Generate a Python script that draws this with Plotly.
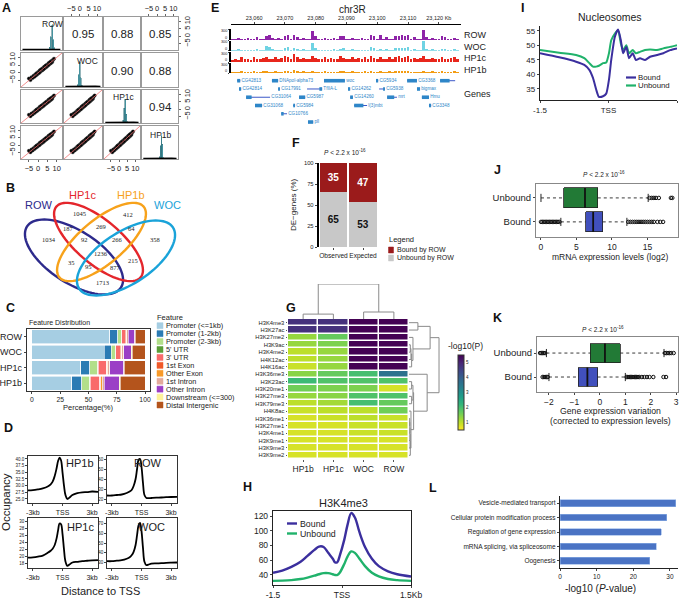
import numpy as np
import plotly.graph_objects as go

W, H = 686, 599
FONT = "Liberation Sans, Arial, Helvetica, sans-serif"
SERIF = "Liberation Serif, Times New Roman, serif"

# ======================= DATA =======================
# ---- A: pairwise correlations ----
a_names = ["ROW", "WOC", "HP1c", "HP1b"]
a_corr_row = [0, 0, 0, 1, 1, 2]
a_corr_col = [1, 2, 3, 2, 3, 3]
a_corr_val = [0.95, 0.88, 0.85, 0.90, 0.88, 0.94]
a_hist_x = [[6.3, 6.9, 7.5, 8.1, 8.7],
            [-1.4, -0.8, -0.2, 0.4, 1.0],
            [2.6, 3.2, 3.8, 4.4, 5.0],
            [1.5, 2.1, 2.7, 3.3, 3.9]]
a_hist_n = [[0.10, 0.45, 0.85, 0.35, 0.08],
            [0.08, 0.40, 0.82, 0.30, 0.06],
            [0.10, 0.50, 0.80, 0.30, 0.05],
            [0.08, 0.45, 0.78, 0.50, 0.05]]
a_dens_x = [-8.5, -4, 0, 3, 6, 9, 12]
a_dens_y = [0.02, 0.025, 0.03, 0.035, 0.03, 0.025, 0.02]
a_cloud_x = [-5.0, -4.2, -3.6, -3.0, -2.5, -2.0, -1.6, -1.2, -0.8, -0.4, 0.0, 0.4, 0.8, 1.2, 1.6,
             2.0, 2.4, 2.8, 3.2, 3.6, 4.0, 4.4, 4.8, 5.2, 5.6, 6.0, 6.4, 6.8, 7.2, 7.6, 8.0, 8.6,
             1.0, 2.2, 3.4, 4.6, 5.8, 7.0, -1.0, 0.6, 1.8, 3.0, 4.2, 5.4, 6.6]
a_cloud_y = [-3.8, -4.8, -2.9, -3.5, -2.0, -2.6, -1.1, -1.8, -0.3, -1.0, 0.5, -0.2, 1.3, 0.6, 2.1,
             1.4, 2.9, 2.2, 3.7, 3.0, 4.5, 3.8, 5.3, 4.6, 6.1, 5.4, 6.9, 6.2, 7.7, 7.0, 8.4, 9.2,
             1.6, 1.8, 3.9, 4.1, 6.3, 6.6, -0.6, 0.2, 2.3, 2.6, 4.7, 5.0, 7.1]

# ---- B: Venn ----
venn_sets = ["ROW", "HP1c", "HP1b", "WOC"]
venn_counts = [1045, 412, 187, 269, 64, 1034, 92, 266, 358, 1236, 35, 95, 877, 215, 1713]

# ---- C: feature distribution (%) ----
c_features = ["Promoter (&lt;=1kb)", "Promoter (1-2kb)", "Promoter (2-3kb)", "5' UTR", "3' UTR",
              "1st Exon", "Other Exon", "1st Intron", "Other Intron", "Downstream (&lt;=300)",
              "Distal Intergenic"]
c_samples = ["ROW", "WOC", "HP1c", "HP1b"]
c_ROW = [69, 7, 3, 0.5, 3, 1, 0.5, 1, 6, 0.5, 8.5]
c_WOC = [64, 6, 3.5, 0.5, 4, 1, 0.5, 1.5, 7, 0.5, 11.5]
c_HP1c = [43, 8, 7, 0.5, 7, 0.5, 1, 2, 12, 0.8, 18.2]
c_HP1b = [35, 9, 7, 0.5, 8.5, 1, 1, 2, 13, 1, 22]

# ---- D: TSS occupancy profiles ----
d_x = [-3.5, -3, -2.5, -2, -1.5, -1.2, -1, -0.8, -0.6, -0.45, -0.3, -0.15, 0, 0.15, 0.3, 0.5, 0.7,
       1, 1.5, 2, 2.5, 3, 3.6]
d_HP1b = [28.2, 28.3, 28.6, 29.0, 29.7, 30.5, 31.5, 33.5, 36.5, 39.2, 40.5, 39.5, 35.0, 30.0, 26.5,
          25.0, 25.5, 26.5, 27.2, 27.5, 27.6, 27.8, 27.7]
d_ROW = [23.5, 23.5, 24.0, 24.5, 26.0, 27.5, 29.0, 33.0, 40.0, 50.0, 59.0, 60.0, 52.0, 36.0, 24.0,
         21.0, 20.8, 21.0, 21.3, 21.5, 21.8, 22.0, 22.2]
d_HP1c = [19.6, 19.7, 19.9, 20.2, 21.0, 21.6, 22.2, 23.2, 25.2, 27.5, 29.5, 29.3, 26.5, 22.0, 18.5,
          17.2, 17.6, 18.2, 18.4, 18.6, 18.7, 18.8, 18.9]
d_WOC = [31.5, 31.5, 32.0, 32.5, 34.0, 35.5, 37.5, 41.0, 48.0, 58.0, 68.0, 70.5, 62.0, 45.0, 31.0,
         27.5, 28.0, 29.0, 29.3, 29.5, 29.8, 30.0, 30.2]

# ---- E: genome browser (1 kb bins starting 23,053 kb) ----
e_start_kb = 23053
e_ROW = [25, 30, 60, 25, 30, 50, 25, 30, 70, 30, 40, 120, 140, 60, 30, 50, 35, 110, 130, 40, 150, 80,
         30, 60, 30, 35, 250, 120, 30, 25, 50, 30, 25, 60, 30, 110, 120, 30, 25, 60, 30, 25, 50, 30,
         25, 140, 120, 30, 130, 40, 70, 30, 25, 110, 120, 130, 120, 140, 40, 80, 30, 35, 260, 90, 30,
         60, 25, 30, 120, 70, 30, 25, 60, 30]
e_WOC = [20, 25, 40, 20, 25, 35, 20, 25, 50, 25, 30, 130, 110, 40, 25, 30, 25, 80, 100, 30, 90, 50,
         25, 40, 25, 30, 220, 90, 25, 20, 35, 25, 20, 40, 25, 60, 70, 25, 20, 40, 25, 20, 35, 25, 20,
         100, 80, 25, 60, 30, 40, 25, 20, 70, 80, 90, 80, 100, 30, 50, 25, 30, 290, 60, 25, 40, 20,
         25, 60, 40, 25, 20, 40, 25]
e_HP1c = [60, 90, 70, 140, 80, 100, 70, 150, 90, 80, 120, 160, 100, 80, 140, 90, 110, 180, 140, 100,
          230, 150, 90, 120, 80, 100, 190, 110, 80, 100, 150, 90, 120, 100, 80, 170, 130, 90, 100,
          150, 80, 110, 90, 140, 100, 180, 120, 90, 160, 100, 90, 140, 80, 150, 170, 130, 160, 180,
          100, 120, 90, 110, 170, 100, 90, 130, 80, 100, 150, 90, 80, 120, 140, 90]
e_HP1b = [35, 45, 40, 60, 40, 50, 40, 65, 45, 40, 55, 75, 50, 40, 60, 45, 50, 80, 70, 45, 100, 60,
          40, 55, 40, 45, 80, 50, 40, 45, 60, 40, 50, 45, 40, 70, 55, 40, 45, 60, 40, 50, 40, 55, 45,
          70, 50, 40, 65, 45, 40, 55, 40, 60, 70, 55, 65, 75, 45, 50, 40, 45, 70, 45, 40, 55, 40, 45,
          60, 40, 40, 50, 55, 40]
e_tracks = ["ROW", "WOC", "HP1c", "HP1b"]
gene_names = ["CG42813", "DNApol-alpha73", "woc", "CG5934", "CG3368", "", "CG42814", "CG17991",
              "TfIIA-L", "CG14262", "CG5938", "bigmax", "CG31064", "CG5987", "CG14260", "mrt", "Hmu",
              "CG31068", "CG5984", "l(3)mbt", "CG3348", "CG10766", "pll"]
gene_row = [1, 1, 1, 1, 1, 1, 2, 2, 2, 2, 2, 2, 3, 3, 3, 3, 3, 4, 4, 4, 4, 5, 6]
gene_start = [23054.5, 23065.8, 23082.7, 23099.6, 23109.7, 23120.4, 23055.1, 23067.8, 23077.2,
              23090.5, 23100.6, 23112.9, 23057.4, 23074.6, 23091.2, 23103.2, 23114.5, 23060.3,
              23072.7, 23092.5, 23116.8, 23068.8, 23077.5]
gene_end = [23055.5, 23067.8, 23089.5, 23100.3, 23112.9, 23125.3, 23055.8, 23068.4, 23082.1,
            23091.2, 23102.5, 23113.9, 23065.2, 23076.6, 23092.1, 23106.4, 23116.8, 23062.6,
            23073.3, 23096.7, 23117.5, 23070.7, 23079.2]
gene_exon_start = [23054.5, 23065.8, 23082.7, 23099.6, 23109.7, 23120.4, 23055.1, 23067.8, 23081.2,
                   23090.5, 23101.9, 23112.9, 23057.4, 23074.6, 23091.2, 23103.2, 23114.5, 23060.3,
                   23072.7, 23092.5, 23116.8, 23068.8, 23077.5]
gene_exon_end = [23055.5, 23067.8, 23089.5, 23100.3, 23112.9, 23123.5, 23055.8, 23068.4, 23082.1,
                 23091.2, 23102.5, 23113.9, 23059.2, 23076.6, 23092.1, 23105.5, 23116.8, 23062.6,
                 23073.3, 23095.5, 23117.5, 23069.6, 23079.2]

# ---- F: DE genes ----
f_cats = ["Observed", "Expected"]
f_bound = [35, 47]
f_unbound = [65, 53]

# ---- G: histone mark enrichment (-log10 P) ----
g_samples = ["HP1b", "HP1c", "WOC", "ROW"]
g_marks = ["H3K4me3", "H3K27ac", "H3K27me2", "H3K9ac", "H3K4me2", "H4K12ac", "H4K16ac", "H3K36me3",
           "H3K23ac", "H3K20me1", "H3K27me3", "H3K79me3", "H4K8ac", "H3K36me1", "H3K27me1",
           "H3K4me1", "H3K9me1", "H3K9me3", "H3K9me2"]
g_vals = [[4.8, 4.8, 5.5, 5.5], [4.8, 4.8, 5.5, 5.5], [1.3, 1.7, 5.5, 5.5], [1.3, 1.5, 5.5, 5.5],
          [1.0, 1.3, 5.5, 5.5], [1.0, 1.3, 5.5, 5.5], [0.9, 1.3, 5.5, 5.5], [1.4, 1.7, 2.0, 3.6],
          [2.1, 1.9, 1.9, 1.9], [1.6, 1.5, 1.5, 0.8], [1.3, 1.4, 1.9, 1.9], [1.0, 1.2, 2.0, 1.7],
          [0.9, 1.0, 1.0, 1.6], [0.8, 0.9, 1.0, 0.9], [0.8, 0.8, 0.9, 0.9], [0.8, 0.8, 0.9, 0.9],
          [0.8, 0.8, 0.8, 0.8], [0.8, 0.8, 0.8, 0.8], [0.8, 0.8, 0.8, 0.8]]
g_col_links = [(0, 1, 0.14), (2, 3, 0.20), (4, 5, 1.0)]
g_row_links = [(3, 4, 0.04), (19, 5, 0.06), (20, 6, 0.08), (2, 21, 0.12), (0, 1, 0.27),
               (23, 22, 0.64), (13, 14, 0.02), (25, 15, 0.025), (26, 16, 0.03), (27, 17, 0.035),
               (28, 18, 0.04), (12, 29, 0.06), (8, 9, 0.08), (10, 11, 0.08), (31, 32, 0.12),
               (33, 30, 0.14), (7, 34, 0.55), (24, 35, 0.91)]

# ---- H: H3K4me3 profile ----
h_x = [-1.5, -1.3, -1.1, -0.9, -0.75, -0.6, -0.5, -0.4, -0.3, -0.2, -0.15, -0.1, -0.05, 0.05, 0.12,
       0.2, 0.28, 0.38, 0.5, 0.65, 0.8, 1.0, 1.2, 1.5]
h_bound = [43, 46, 51, 58, 66, 74, 78.5, 78, 70, 62, 57, 57.5, 66, 88, 108, 124, 118, 98, 78, 62,
           52, 45, 41, 38]
h_unbound = [32, 32.3, 33, 34.5, 36.5, 39, 41, 42.5, 42.5, 41, 40, 40, 43, 55, 65, 72, 70, 62, 52,
             43, 38, 34.5, 33, 32]

# ---- I: nucleosome profile ----
i_x = [-1.5, -1.08, -0.71, -0.53, -0.42, -0.34, -0.27, -0.21, -0.12, -0.05, 0.01, 0.06, 0.14, 0.21,
       0.27, 0.32, 0.39, 0.45, 0.53, 0.6, 0.69, 0.8, 0.91, 1.06, 1.2, 1.35, 1.5]
i_bound = [47.3, 45.9, 44.4, 43.3, 41.6, 38.8, 34.8, 32.3, 32.5, 33.4, 38.2, 45, 53, 55.5, 51.8,
           47.3, 49.5, 45.6, 47.3, 45, 45.6, 45, 46.1, 46.7, 47.3, 48.4, 49]
i_unbound = [48.4, 47.5, 46.7, 45.6, 43.9, 42.7, 42.7, 43, 43.9, 44.1, 47.3, 51.8, 54.1, 55.2, 50.7,
             48.4, 50.1, 47.3, 48.4, 47.3, 47.8, 48.4, 48.6, 48.4, 49, 49.5, 50.1]

# ---- J: mRNA expression boxplots (Bound, Unbound) ----
box_groups = ["Bound", "Unbound"]
j_q1 = [6.3, 3.24]
j_med = [7.35, 6.2]
j_q3 = [8.7, 8.0]
j_lo = [2.8, 0.0]
j_hi = [12.1, 15.1]
j_out_bound = [0.0, 0.2, 0.4, 0.6, 0.8, 1.0, 1.2, 1.4, 1.6, 1.8, 2.0, 2.2, 2.4, 2.6, 12.3, 12.6,
               12.9, 13.2, 13.5, 13.8, 14.1, 14.4, 14.7, 15.0, 15.3, 15.6, 15.9, 16.4, 16.8, 17.2]
j_out_unbound = [15.3, 15.6, 15.9, 16.2, 16.6, 18.3, 18.5]

# ---- K: expression variation boxplots ----
k_q1 = [-0.84, -0.37]
k_med = [-0.49, 0.2]
k_q3 = [-0.09, 0.8]
k_lo = [-2.0, -2.1]
k_hi = [1.0, 2.52]
k_out_bound = [-2.25, -2.2, -2.15, -2.1, -2.05, 1.05, 1.1, 1.15, 1.2, 1.25, 1.3, 1.35, 1.4, 1.45,
               1.5, 1.55, 1.65, 1.75, 1.85, 1.95, 2.1, 2.5, 2.6]
k_out_unbound = [-2.35, -2.3, -2.25, -2.2, -2.15, 2.56, 2.62, 2.68, 2.74, 2.8, 2.9]

# ---- L: GO terms ----
go_terms = ["Vesicle-mediated transport", "Cellular protein modification process",
            "Regulation of gene expression", "mRNA splicing, via spliceosome", "Oogenesis"]
go_vals = [31.6, 29.1, 27.6, 26.3, 24.5]

# ======================= HELPERS =======================
traces, shapes, annotations = [], [], []
layout = dict(width=W, height=H, margin=dict(l=0, r=0, t=0, b=0, pad=0),
              paper_bgcolor="white", plot_bgcolor="white", showlegend=False, barmode="stack",
              template="none", font=dict(family=FONT, size=8, color="#222"))
n_ax = [0]


def tf(size, color="#222", family=FONT):
    return dict(size=size, color=color, family=family)


def axes(x0, x1, y0, y1, xa=None, ya=None):
    n_ax[0] += 1
    s = "" if n_ax[0] == 1 else str(n_ax[0])
    base = dict(showgrid=False, zeroline=False, showticklabels=False, ticks="", showline=False,
                tickfont=tf(7), fixedrange=True, tickangle=0)
    xd = dict(base, domain=[x0 / W, x1 / W], anchor="y" + s)
    yd = dict(base, domain=[1 - y1 / H, 1 - y0 / H], anchor="x" + s)
    if xa:
        xd.update(xa)
    if ya:
        yd.update(ya)
    layout["xaxis" + s] = xd
    layout["yaxis" + s] = yd
    return "x" + s, "y" + s


def ann(x, y, s, size=8, color="#222", xanchor="center", yanchor="middle", bold=False, angle=0,
        family=FONT):
    annotations.append(dict(x=x / W, y=1 - y / H, xref="paper", yref="paper",
                            text=("<b>%s</b>" % s) if bold else s, showarrow=False,
                            font=tf(size, color, family), xanchor=xanchor, yanchor=yanchor,
                            textangle=angle, borderpad=0))


def pline(x0, y0, x1, y1, color, width):
    shapes.append(dict(type="line", xref="paper", yref="paper", x0=x0 / W, x1=x1 / W,
                       y0=1 - y0 / H, y1=1 - y1 / H, line=dict(color=color, width=width)))


def prect(x0, y0, x1, y1, fill, lc=None):
    shapes.append(dict(type="rect", xref="paper", yref="paper", x0=x0 / W, x1=x1 / W,
                       y0=1 - y1 / H, y1=1 - y0 / H, fillcolor=fill,
                       line=dict(color=lc or fill, width=0.5)))


def panel(x, y, s):
    ann(x, y, s, size=12.5, color="#111", bold=True)


# ======================= A =======================
panel(7, 8, "A")
a_cols = [(21, 62), (64, 102), (104, 140), (142, 178)]
a_rows = [(17, 50), (53, 87), (90, 123), (126, 159)]
a_rng = [-9.3, 12.9]
a_tv = [-5, 0, 5, 10]
a_tt = ["\u22125", "0", "5", "10"]
a_label_pos = [(52, 24), (87, 61), (124, 97), (161, 135)]
for r in range(4):
    for c in range(4):
        frame = dict(showline=True, mirror=True, linecolor="#9a9a9a", linewidth=1, range=a_rng)
        xa = dict(frame)
        ya = dict(frame)
        if r == c:
            ya["range"] = [0, 1.1]
        tick = dict(showticklabels=True, tickvals=a_tv, ticktext=a_tt, ticks="outside", ticklen=2,
                    tickcolor="#666", tickfont=tf(7.5))
        if r == 0 and c in (1, 3):
            xa.update(tick, side="top", tickangle=0)
        if r == 3 and c in (0, 2):
            xa.update(tick, tickangle=0)
        if c == 0 and r in (1, 3):
            ya.update(tick, tickangle=-90)
        if c == 3 and r in (0, 2):
            ya.update(tick, side="right", tickangle=-90)
        xr, yr = axes(a_cols[c][0], a_cols[c][1], a_rows[r][0], a_rows[r][1], xa, ya)
        if r == c:
            traces.append(go.Bar(x=a_hist_x[r], y=a_hist_n[r], width=0.55, xaxis=xr, yaxis=yr,
                                 marker=dict(color="#5fb6c4", line=dict(color="#2d6e78", width=0.5))))
            traces.append(go.Scatter(x=a_dens_x, y=a_dens_y, mode="lines", xaxis=xr, yaxis=yr,
                                     line=dict(color="black", width=1.5)))
        elif r > c:
            traces.append(go.Scatter(x=a_cloud_x, y=a_cloud_y, mode="markers", xaxis=xr, yaxis=yr,
                                     marker=dict(size=3.5, color="black",
                                                 line=dict(color="#555", width=0.3))))
            traces.append(go.Scatter(x=a_rng, y=a_rng, mode="lines", xaxis=xr, yaxis=yr,
                                     line=dict(color="#f07070", width=0.8)))
        else:
            traces.append(go.Scatter(x=[a_rng[0]], y=[a_rng[0]], mode="markers", xaxis=xr, yaxis=yr,
                                     marker=dict(size=1, opacity=0), hoverinfo="skip"))
for k in range(4):
    ann(a_label_pos[k][0], a_label_pos[k][1], a_names[k], size=8.5)
for rr, cc, v in zip(a_corr_row, a_corr_col, a_corr_val):
    ann((a_cols[cc][0] + a_cols[cc][1]) / 2, (a_rows[rr][0] + a_rows[rr][1]) / 2 + 1,
        "%.2f" % v, size=11.5)

# ======================= B =======================
panel(10, 188, "B")
venn_colors = {"ROW": "#2d2a8c", "HP1c": "#e4262c", "HP1b": "#f7a21b", "WOC": "#1aa3d9"}
venn_geom = {"ROW": (74, 257, 56, 26, 33), "HP1c": (98.5, 242, 55, 22, 40),
             "HP1b": (101.5, 242, 55, 22, -40), "WOC": (126, 258, 56, 26, -33)}
venn_label_pos = {"ROW": (39, 205), "HP1c": (82, 195), "HP1b": (131, 195), "WOC": (167, 205)}
venn_count_pos = [(79, 213), (128, 214), (68, 228), (101, 226), (131, 228), (49, 240), (84, 240),
                  (117, 240), (155, 240), (101, 253), (71, 262), (88, 266), (115, 267), (133, 260),
                  (102, 282)]


def ellipse_path(cx, cy, a, b, ang_deg, n=90):
    t = np.linspace(0, 2 * np.pi, n, endpoint=False)
    g = np.deg2rad(ang_deg)
    xs = cx + a * np.cos(t) * np.cos(g) - b * np.sin(t) * np.sin(g)
    ys = cy + a * np.cos(t) * np.sin(g) + b * np.sin(t) * np.cos(g)
    return "M" + " L".join("%.5f,%.5f" % (x / W, 1 - y / H) for x, y in zip(xs, ys)) + " Z"


for s in venn_sets:
    shapes.append(dict(type="path", xref="paper", yref="paper", path=ellipse_path(*venn_geom[s]),
                       line=dict(color=venn_colors[s], width=2.4)))
    ann(venn_label_pos[s][0], venn_label_pos[s][1], s, size=11, color=venn_colors[s])
for (px, py), v in zip(venn_count_pos, venn_counts):
    ann(px, py, str(v), size=6.5, color="#222", family=SERIF)

# ======================= C =======================
panel(10, 308, "C")
c_colors = ["#a6cee3", "#2b7bb4", "#b2df8a", "#5a9e38", "#f96b6b", "#f0592a", "#f89a2a",
            "#e3aa9c", "#9b3fc6", "#fdf39a", "#b4541c"]
xr, yr = axes(27, 150, 329, 391,
              dict(range=[-4.4, 104.4], showticklabels=True, tickvals=[0, 25, 50, 75, 100],
                   ticks="outside", ticklen=1.5, tickfont=tf(6.8), showline=True, mirror=True,
                   linecolor="#333", linewidth=1.3),
              dict(showticklabels=True, categoryorder="array", categoryarray=c_samples[::-1],
                   ticks="outside", ticklen=2, tickfont=tf(9), showline=True, mirror=True,
                   linecolor="#333", linewidth=1.3, range=[-0.5, 3.5]))
c_table = [c_ROW, c_WOC, c_HP1c, c_HP1b]
for fi, fname in enumerate(c_features):
    traces.append(go.Bar(y=c_samples, x=[row[fi] for row in c_table], orientation="h", width=0.88,
                         xaxis=xr, yaxis=yr,
                         marker=dict(color=c_colors[fi], line=dict(color="white", width=0.6))))
ann(28, 322, "Feature Distribution", size=7, xanchor="left")
ann(88, 407.5, "Percentage(%)", size=7.5)
ann(156, 317, "Feature", size=7.5, xanchor="left")
for fi, fname in enumerate(c_features):
    yy = 325.7 + fi * 7.93
    prect(157, yy - 3, 163, yy + 3, c_colors[fi])
    ann(165, yy, fname, size=7.3, xanchor="left")

# ======================= D =======================
panel(8, 428, "D")
d_sets = [("HP1b", d_HP1b, (28, 98, 456, 503), [25, 27.5, 30, 32.5, 35, 37.5, 40], [23.5, 41.1],
           (80, 463)),
          ("ROW", d_ROW, (107, 177, 456, 503), [20, 30, 40, 50, 60], [16, 63], (148, 463)),
          ("HP1c", d_HP1c, (28, 98, 518, 568), [18, 20, 22, 24, 26, 28, 30], [16.6, 31.1], (80, 527)),
          ("WOC", d_WOC, (107, 177, 518, 568), [30, 40, 50, 60, 70], [24.6, 75.4], (151, 527))]
for name, vals, (x0, x1, y0, y1), ytv, yrng, lp in d_sets:
    xr, yr = axes(x0, x1, y0, y1,
                  dict(range=[-3.5, 3.6], showticklabels=True, tickvals=[-3, 0, 3],
                       ticktext=["-3kb", "TSS", "3kb"], ticks="outside", ticklen=2, tickfont=tf(7),
                       showline=True, mirror=True, linecolor="#333", linewidth=1.3),
                  dict(range=yrng, showticklabels=True, tickvals=ytv,
                       ticktext=[("%.1f" % v) if name == "HP1b" else str(v) for v in ytv],
                       ticks="outside", ticklen=1.5, tickfont=tf(4.5), showline=True, mirror=True,
                       linecolor="#333", linewidth=1.3))
    traces.append(go.Scatter(x=d_x, y=vals, mode="lines", line=dict(color="black", width=1.8,
                                                                     shape="spline"),
                             xaxis=xr, yaxis=yr))
    ann(lp[0], lp[1], name, size=11)
ann(6, 502, "Occupancy", size=11.5, angle=-90)
ann(100, 591, "Distance to TSS", size=11)

# ======================= E =======================
panel(215, 8, "E")
ann(352, 9, "chr3R", size=10)
e_colors = ["#8e24a8", "#6fd3e3", "#e8261c", "#f39c12"]
e_rows = [(29, 40), (40.5, 50.7), (52, 62), (63, 73.3)]
e_label_y = [35, 46.7, 58.3, 70]
e_pos = [e_start_kb + i for i in range(len(e_ROW))]
e_rng = [23052.5, 23127.2]
for ti, (tname, sig) in enumerate(zip(e_tracks, [e_ROW, e_WOC, e_HP1c, e_HP1b])):
    xa = dict(range=e_rng)
    if ti == 0:
        xa.update(showticklabels=True, side="top", anchor="free", position=1 - 24 / H,
                  showline=True, linecolor="black", linewidth=1, ticks="outside", ticklen=2,
                  tickvals=[23060, 23070, 23080, 23090, 23100, 23110, 23120],
                  ticktext=["23,060", "23,070", "23,080", "23,090", "23,100", "23,110",
                            "23,120 Kb"], tickfont=tf(5.5))
    xr, yr = axes(231, 461, e_rows[ti][0], e_rows[ti][1], xa,
                  dict(range=[0, 300], showline=True, linecolor="black", linewidth=1.6,
                       ticks="outside", ticklen=1.5, tickvals=[0, 300]))
    traces.append(go.Bar(x=e_pos, y=sig, width=0.85, xaxis=xr, yaxis=yr,
                         marker=dict(color=e_colors[ti], line=dict(width=0))))
    ann(228, e_rows[ti][0] + 1.8, "300", size=3.8, xanchor="right")
    ann(228, e_rows[ti][1] - 2.2, "0", size=3.8, xanchor="right")
    ann(463, e_label_y[ti], tname, size=9, xanchor="left")
ann(463, 94, "Genes", size=9, xanchor="left")
xr, yr = axes(231, 461, 76, 126, dict(range=e_rng), dict(range=[6.48, 0.43]))
gx, gy, bx, by = [], [], [], []
for s0, s1, e0, e1, rw in zip(gene_start, gene_end, gene_exon_start, gene_exon_end, gene_row):
    gx += [s0, s1, None]
    gy += [rw, rw, None]
    bx += [e0, e1, None]
    by += [rw, rw, None]
traces.append(go.Scatter(x=gx, y=gy, mode="lines", line=dict(color="#3b58c8", width=1),
                         xaxis=xr, yaxis=yr))
traces.append(go.Scatter(x=bx, y=by, mode="lines", line=dict(color="#2e86c8", width=3.6),
                         xaxis=xr, yaxis=yr))
lab = [(e + 0.4, rw, nm) for e, rw, nm in zip(gene_end, gene_row, gene_names) if nm]
traces.append(go.Scatter(x=[t[0] for t in lab], y=[t[1] for t in lab], mode="text",
                         text=[t[2] for t in lab], textposition="middle right",
                         textfont=tf(4.6, "#2e86c8"), xaxis=xr, yaxis=yr))

# ======================= F =======================
panel(296, 143, "F")
ann(345, 152, "<i>P</i> &lt; 2.2 x 10<sup>-16</sup>", size=6.5)
xr, yr = axes(318.75, 377.75, 163, 247,
              dict(showticklabels=True, ticks="outside", ticklen=2, tickfont=tf(6.6),
                   range=[-0.5, 1.5], tickangle=0),
              dict(range=[0, 100], showticklabels=True, tickvals=[0, 25, 50, 75, 100],
                   ticks="outside", ticklen=2, tickfont=tf(5.8), showline=True,
                   linecolor="black", linewidth=2))
traces.append(go.Bar(x=f_cats, y=f_unbound, width=0.92, xaxis=xr, yaxis=yr,
                     text=[str(v) for v in f_unbound], texttemplate="<b>%{text}</b>",
                     textposition="inside", insidetextanchor="middle",
                     textfont=tf(10, "#111"), marker=dict(color="#c8c8c8", line=dict(width=0))))
traces.append(go.Bar(x=f_cats, y=f_bound, width=0.92, xaxis=xr, yaxis=yr,
                     text=[str(v) for v in f_bound], texttemplate="<b>%{text}</b>",
                     textposition="inside", insidetextanchor="middle",
                     textfont=tf(10, "white"), marker=dict(color="#9b1b1b", line=dict(width=0))))
ann(294, 205, "DE\u2212genes (%)", size=8, angle=-90)
ann(388, 240, "Legend", size=7.5, xanchor="left")
prect(388.5, 247, 393.5, 253, "#9b1b1b")
prect(388.5, 255, 393.5, 261, "#c8c8c8")
ann(396, 250, "Bound by ROW", size=7, xanchor="left")
ann(396, 258, "Unbound by ROW", size=7, xanchor="left")

# ======================= G =======================
panel(291, 308, "G")
xr, yr = axes(288, 409, 319, 459,
              dict(showticklabels=True, tickfont=tf(8.5), ticks="outside", ticklen=2,
                   tickcolor="#555", range=[-0.5, 3.5]),
              dict(showticklabels=True, tickfont=tf(5.8), ticks="outside", ticklen=1.5,
                   tickcolor="#555", range=[18.5, -0.5]))
traces.append(go.Heatmap(z=g_vals, x=g_samples, y=g_marks, colorscale="Viridis", reversescale=True,
                         zmin=0.5, zmax=5.5, xgap=1.5, ygap=1.5, xaxis=xr, yaxis=yr,
                         colorbar=dict(x=458 / W, xanchor="left", y=1 - 430 / H, yanchor="bottom",
                                       len=75 / H, lenmode="fraction", thickness=6,
                                       thicknessmode="pixels", outlinewidth=1, outlinecolor="#333",
                                       tickvals=[1, 2, 3, 4, 5], tickfont=tf(4.5), ticks="",
                                       xpad=0, ypad=0)))
ann(465, 346, "-log10(P)", size=8.5)


def dendro(n_leaves, links):
    pos = {i: float(i) for i in range(n_leaves)}
    hgt = {i: 0.0 for i in range(n_leaves)}
    ps, hs = [], []
    for k, (a, b, h) in enumerate(links):
        ps += [pos[a], pos[a], pos[b], pos[b], None]
        hs += [hgt[a], h, h, hgt[b], None]
        pos[n_leaves + k] = (pos[a] + pos[b]) / 2
        hgt[n_leaves + k] = h
    return ps, hs


cp, ch = dendro(4, g_col_links)
xr, yr = axes(288, 409, 284, 319, dict(range=[-0.5, 3.5]), dict(range=[0, 1.0]))
traces.append(go.Scatter(x=cp, y=ch, mode="lines", line=dict(color="#8a8a8a", width=1),
                         xaxis=xr, yaxis=yr, cliponaxis=False))
rp, rh = dendro(19, g_row_links)
xr, yr = axes(409, 442, 319, 459, dict(range=[0, 1.0]), dict(range=[18.5, -0.5]))
traces.append(go.Scatter(x=rh, y=rp, mode="lines", line=dict(color="#8a8a8a", width=1),
                         xaxis=xr, yaxis=yr, cliponaxis=False))

# ======================= H =======================
panel(247, 487, "H")
ann(343, 503, "H3K4me3", size=11)
BOUND_C, UNBOUND_C = "#3b2f9e", "#20b26b"
xr, yr = axes(273, 411, 511, 585,
              dict(range=[-1.5, 1.5], showticklabels=True, tickvals=[-1.5, 0, 1.5],
                   ticktext=["-1.5", "TSS", "1.5Kb"], ticks="outside", ticklen=2,
                   tickfont=tf(8.5), showline=True, mirror=True, linecolor="#222", linewidth=1.2),
              dict(range=[26.4, 126.8], showticklabels=True, tickvals=[40, 60, 80, 100, 120],
                   ticks="outside", ticklen=2, tickfont=tf(8.5), showline=True, mirror=True,
                   linecolor="#222", linewidth=1.2))
traces.append(go.Scatter(x=h_x, y=h_unbound, mode="lines", xaxis=xr, yaxis=yr,
                         line=dict(color=UNBOUND_C, width=2.4, shape="spline")))
traces.append(go.Scatter(x=h_x, y=h_bound, mode="lines", xaxis=xr, yaxis=yr,
                         line=dict(color=BOUND_C, width=2.4, shape="spline")))
pline(287, 523.5, 297, 523.5, BOUND_C, 2.4)
pline(287, 533.5, 297, 533.5, UNBOUND_C, 2.4)
ann(299, 523.5, "Bound", size=8.8, xanchor="left")
ann(299, 533.5, "Unbound", size=8.8, xanchor="left")

# ======================= I =======================
panel(522, 8, "I")
ann(610, 17, "Nucleosomes", size=10.5)
xr, yr = axes(540, 677, 26, 100,
              dict(range=[-1.5, 1.5], showticklabels=True, tickvals=[-1.5, 0, 1.5],
                   ticktext=["-1.5", "TSS", "1.5Kb"], ticks="outside", ticklen=2,
                   tickfont=tf(8), showline=True, linecolor="#222", linewidth=1.2),
              dict(range=[31.2, 56.7], showticklabels=True, tickvals=[35, 40, 45, 50, 55],
                   ticks="outside", ticklen=2, tickfont=tf(8), showline=True, linecolor="#222",
                   linewidth=1.2))
traces.append(go.Scatter(x=i_x, y=i_unbound, mode="lines", xaxis=xr, yaxis=yr,
                         line=dict(color=UNBOUND_C, width=2, shape="spline", smoothing=0.6)))
traces.append(go.Scatter(x=i_x, y=i_bound, mode="lines", xaxis=xr, yaxis=yr,
                         line=dict(color=BOUND_C, width=2, shape="spline", smoothing=0.6)))
pline(626, 77.5, 636, 77.5, BOUND_C, 2.2)
pline(626, 85.5, 636, 85.5, UNBOUND_C, 2.2)
ann(637, 77.5, "Bound", size=7.8, xanchor="left")
ann(637, 85.8, "Unbound", size=7.8, xanchor="left")


# ======================= J & K =======================
def boxes(xr, yr, q1, med, q3, lo, hi, outs, w):
    box_colors = ["#4150bd", "#227a36"]
    pos = [0, 1]
    traces.append(go.Bar(y=pos, x=[b - a for a, b in zip(q1, q3)], base=q1, orientation="h",
                         width=w, xaxis=xr, yaxis=yr,
                         marker=dict(color=box_colors, line=dict(color="#222", width=0.8))))
    wx, wy, cx, cy, mx, my = [], [], [], [], [], []
    for p, a, m, b, l, h in zip(pos, q1, med, q3, lo, hi):
        wx += [l, a, None, b, h, None]
        wy += [p, p, None, p, p, None]
        cx += [l, l, None, h, h, None]
        cy += [p - 0.17, p + 0.17, None, p - 0.17, p + 0.17, None]
        mx += [m, m, None]
        my += [p - w / 2, p + w / 2, None]
    traces.append(go.Scatter(x=wx, y=wy, mode="lines", xaxis=xr, yaxis=yr,
                             line=dict(color="#222", width=0.9, dash="dot")))
    traces.append(go.Scatter(x=cx, y=cy, mode="lines", xaxis=xr, yaxis=yr,
                             line=dict(color="#222", width=1)))
    traces.append(go.Scatter(x=mx, y=my, mode="lines", xaxis=xr, yaxis=yr,
                             line=dict(color="#111", width=1.8)))
    for p, o in zip(pos, outs):
        traces.append(go.Scatter(x=o, y=[p] * len(o), mode="markers", xaxis=xr, yaxis=yr,
                                 marker=dict(symbol="circle-open", size=3.5, color="#111",
                                             line=dict(width=1))))


panel(497, 170, "J")
ann(604, 174, "<i>P</i> &lt; 2.2 x 10<sup>-16</sup>", size=6.5)
xr, yr = axes(536, 678, 184, 237,
              dict(range=[-0.7, 19.3], showticklabels=True, tickvals=[0, 5, 10, 15],
                   ticks="outside", ticklen=1.5, tickfont=tf(8.5), showline=True, mirror=True,
                   linecolor="#888", linewidth=1),
              dict(range=[-0.63, 1.58], showticklabels=True, tickvals=[0, 1],
                   ticktext=box_groups, ticks="outside", ticklen=2, tickfont=tf(9.5),
                   showline=True, mirror=True, linecolor="#888", linewidth=1))
boxes(xr, yr, j_q1, j_med, j_q3, j_lo, j_hi, [j_out_bound, j_out_unbound], 0.83)
ann(610, 256.5, "mRNA expression levels (log2)", size=8.5)

panel(497, 318, "K")
ann(603, 329, "<i>P</i> &lt; 2.2 x 10<sup>-16</sup>", size=6.5)
xr, yr = axes(537, 678, 337, 392,
              dict(range=[-2.47, 3.07], showticklabels=True, tickvals=[-2, -1, 0, 1, 2, 3],
                   ticktext=["\u22122", "\u22121", "0", "1", "2", "3"],
                   ticks="outside", ticklen=1.5, tickfont=tf(8.5), showline=True, mirror=True,
                   linecolor="#888", linewidth=1),
              dict(range=[-0.625, 1.67], showticklabels=True, tickvals=[0, 1],
                   ticktext=box_groups, ticks="outside", ticklen=2, tickfont=tf(9.5),
                   showline=True, mirror=True, linecolor="#888", linewidth=1))
boxes(xr, yr, k_q1, k_med, k_q3, k_lo, k_hi, [k_out_bound, k_out_unbound], 0.79)
ann(610, 410.5, "Gene expression variation", size=8.7)
ann(610, 421, "(corrected to expression levels)", size=8.7)

# ======================= L =======================
panel(433, 488, "L")
xr, yr = axes(560, 678, 496, 568,
              dict(range=[0, 32.2], showticklabels=True, tickvals=[0, 10, 20, 30],
                   ticks="outside", ticklen=2, tickfont=tf(6.5), showline=True, linecolor="#222",
                   linewidth=1.2),
              dict(showticklabels=True, ticks="outside", ticklen=2, tickfont=tf(6.5),
                   showline=True, linecolor="#222", linewidth=1.2, categoryorder="array",
                   categoryarray=go_terms, range=[4.5, -0.5]))
traces.append(go.Bar(y=go_terms, x=go_vals, orientation="h", width=0.46, xaxis=xr, yaxis=yr,
                     marker=dict(color="#4a73c4", line=dict(color="#8fb0e6", width=0.6))))
ann(600, 588, "-log10 (<i>P</i>-value)", size=10)

layout["shapes"] = shapes
layout["annotations"] = annotations
fig = go.Figure(data=traces, layout=layout)
fig.write_html("out.html", config={"displayModeBar": False, "staticPlot": True},
               post_script="document.body.style.margin='0px';"
                           "document.body.style.overflow='hidden';")
